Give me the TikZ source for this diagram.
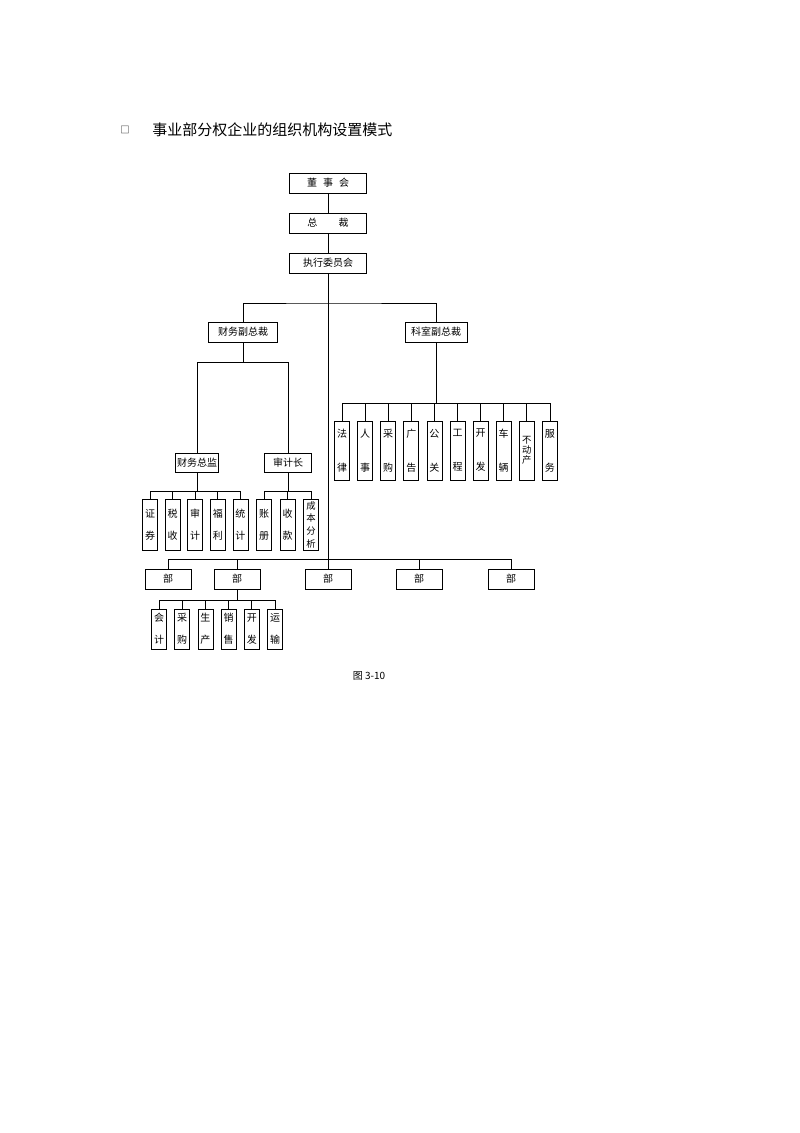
\documentclass[tikz,border=0pt]{standalone}
\usepackage{fontspec}
\newfontfamily\cjk{Noto Sans CJK SC}
\newcommand{\pair}[3]{#1\\[#3]#2}
\begin{document}
\begin{tikzpicture}[x=0.75pt,y=-0.75pt,line width=0.6pt,
		every node/.style={font=\cjk\fontsize{7.5}{9}\selectfont,inner sep=0pt},
		unit node/.style={draw,line width=0.6pt,minimum height=15pt},
		cell node/.style={draw,line width=0.6pt,align=center,minimum width=11.25pt}]
	\fill[white] (0,0) rectangle (800,1133);
	\useasboundingbox (0,0) rectangle (800,1133);

	% title
	\node at (125, 130) (mark) {\fontsize{7}{8}\selectfont □};
	\node[anchor=west] at (152, 130) (title) {\fontsize{11.25}{13}\selectfont 事业部分权企业的组织机构设置模式};

	% top of the tree
	\node[unit node,minimum width=57.75pt] at (328, 183) (dsh) {董\hspace{4.5pt}事\hspace{4.5pt}会};
	\node[unit node,minimum width=57.75pt] at (328, 223) (zc) {总\hspace{16pt}裁};
	\node[unit node,minimum width=57.75pt] at (328, 263) (zx) {执行委员会};
	\node[unit node,minimum width=51.75pt] at (243, 332) (cw) {财务副总裁};
	\node[unit node,minimum width=46.5pt] at (436, 332) (ks) {科室副总裁};
	\node[unit node,minimum width=32.25pt,minimum height=14.25pt] at (197, 462.5) (cz) {财务总监};
	\node[unit node,minimum width=35.25pt,minimum height=14.25pt] at (288, 462.5) (sj) {审计长};

	% departments
	\node[unit node,minimum width=34.5pt] at (168, 579) (bu1) {部};
	\node[unit node,minimum width=34.5pt] at (237, 579) (bu2) {部};
	\node[unit node,minimum width=34.5pt] at (328, 579) (bu3) {部};
	\node[unit node,minimum width=34.5pt] at (419, 579) (bu4) {部};
	\node[unit node,minimum width=34.5pt] at (511, 579) (bu5) {部};

	% staff offices
	\node[cell node,minimum height=44.25pt] at (342, 450.5) (k1) {\pair{法}{律}{16.5pt}};
	\node[cell node,minimum height=44.25pt] at (365.1, 450.5) (k2) {\pair{人}{事}{16.5pt}};
	\node[cell node,minimum height=44.25pt] at (388.2, 450.5) (k3) {\pair{采}{购}{16.5pt}};
	\node[cell node,minimum height=44.25pt] at (411.3, 450.5) (k4) {\pair{广}{告}{16.5pt}};
	\node[cell node,minimum height=44.25pt] at (434.4, 450.5) (k5) {\pair{公}{关}{16.5pt}};
	\node[cell node,minimum height=44.25pt] at (457.5, 450.5) (k6) {\pair{工}{程}{16.5pt}};
	\node[cell node,minimum height=44.25pt] at (480.6, 450.5) (k7) {\pair{开}{发}{16.5pt}};
	\node[cell node,minimum height=44.25pt] at (503.7, 450.5) (k8) {\pair{车}{辆}{16.5pt}};
	\node[cell node,minimum height=44.25pt,font=\cjk\fontsize{7}{7.5}\selectfont] at (526.8, 450.5) (k9) {不\\动\\产};
	\node[cell node,minimum height=44.25pt] at (549.9, 450.5) (k10) {\pair{服}{务}{16.5pt}};

	% finance
	\node[cell node,minimum height=38.25pt] at (150, 524.5) (c1) {\pair{证}{券}{7.5pt}};
	\node[cell node,minimum height=38.25pt] at (172.6, 524.5) (c2) {\pair{税}{收}{7.5pt}};
	\node[cell node,minimum height=38.25pt] at (195.2, 524.5) (c3) {\pair{审}{计}{7.5pt}};
	\node[cell node,minimum height=38.25pt] at (217.8, 524.5) (c4) {\pair{福}{利}{7.5pt}};
	\node[cell node,minimum height=38.25pt] at (240.4, 524.5) (c5) {\pair{统}{计}{7.5pt}};
	\node[cell node,minimum height=38.25pt] at (264, 524.5) (s1) {\pair{账}{册}{7.5pt}};
	\node[cell node,minimum height=38.25pt] at (287.5, 524.5) (s2) {\pair{收}{款}{7.5pt}};
	\node[cell node,minimum height=38.25pt,font=\cjk\fontsize{7}{9.5}\selectfont] at (311, 524.5) (s3) {成\\本\\分\\析};

	% inside a department
	\node[cell node,minimum height=30pt] at (159, 629) (y1) {\pair{会}{计}{7.5pt}};
	\node[cell node,minimum height=30pt] at (182.2, 629) (y2) {\pair{采}{购}{7.5pt}};
	\node[cell node,minimum height=30pt] at (205.4, 629) (y3) {\pair{生}{产}{7.5pt}};
	\node[cell node,minimum height=30pt] at (228.6, 629) (y4) {\pair{销}{售}{7.5pt}};
	\node[cell node,minimum height=30pt] at (251.8, 629) (y5) {\pair{开}{发}{7.5pt}};
	\node[cell node,minimum height=30pt] at (275, 629) (y6) {\pair{运}{输}{7.5pt}};

	\node at (369, 676) (cap) {图 3-10};

	% bus points
	\coordinate (topbus) at (328, 303);
	\coordinate (cwbus) at (243, 362);
	\coordinate (kbus) at (436, 403);
	\coordinate (czbus) at (197, 491);
	\coordinate (sjbus) at (288, 491);
	\coordinate (bubus) at (328, 559);
	\coordinate (yybus) at (237, 600);

	\draw (dsh) -- (zc);
	\draw (zc) -- (zx);
	\draw (zx) -- (bu3);
	\draw (cw) |- (topbus) -| (ks);
	\draw (cw) -- (cwbus);
	\draw (cwbus) -| (cz);
	\draw (cwbus) -| (sj);
	\draw (ks) -- (kbus);
	\foreach \i in {1,...,10} \draw (kbus) -| (k\i);
	\draw (cz) -- (czbus);
	\foreach \i in {1,...,5} \draw (czbus) -| (c\i);
	\draw (sj) -- (sjbus);
	\foreach \i in {1,2,3} \draw (sjbus) -| (s\i);
	\foreach \i in {1,2,4,5} \draw (bubus) -| (bu\i);
	\draw (bu2) -- (yybus);
	\foreach \i in {1,...,6} \draw (yybus) -| (y\i);
\end{tikzpicture}
\end{document}
